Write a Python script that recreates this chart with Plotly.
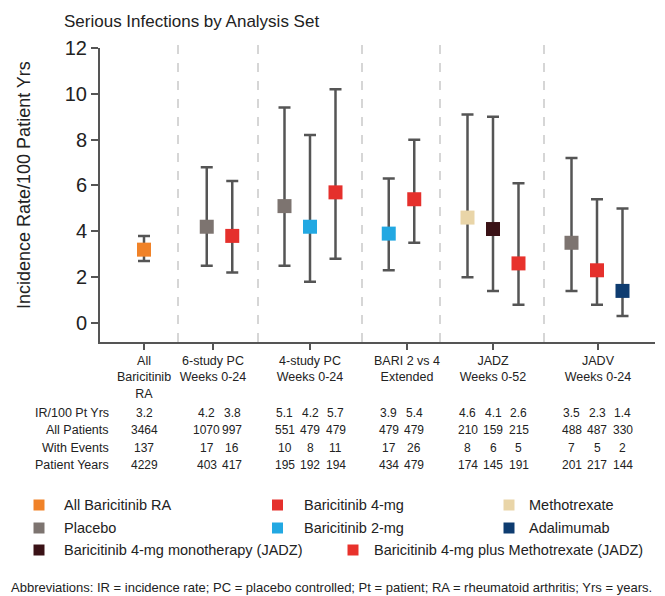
import plotly.graph_objects as go

# ---- data -------------------------------------------------------------
group_labels = [
    "All<br>Baricitinib<br>RA",
    "6-study PC<br>Weeks 0-24",
    "4-study PC<br>Weeks 0-24",
    "BARI 2 vs 4<br>Extended",
    "JADZ<br>Weeks 0-52",
    "JADV<br>Weeks 0-24",
]
point_group = [0, 1, 1, 2, 2, 2, 3, 3, 4, 4, 4, 5, 5, 5]
point_arm = [
    "All Baricitinib RA",
    "Placebo", "Baricitinib 4-mg",
    "Placebo", "Baricitinib 2-mg", "Baricitinib 4-mg",
    "Baricitinib 2-mg", "Baricitinib 4-mg",
    "Methotrexate", "Baricitinib 4-mg monotherapy (JADZ)",
    "Baricitinib 4-mg plus Methotrexate (JADZ)",
    "Placebo", "Baricitinib 4-mg", "Adalimumab",
]
ir_per_100py = [3.2, 4.2, 3.8, 5.1, 4.2, 5.7, 3.9, 5.4, 4.6, 4.1, 2.6, 3.5, 2.3, 1.4]
ci_low = [2.7, 2.5, 2.2, 2.5, 1.8, 2.8, 2.3, 3.5, 2.0, 1.4, 0.8, 1.4, 0.8, 0.3]
ci_high = [3.8, 6.8, 6.2, 9.4, 8.2, 10.2, 6.3, 8.0, 9.1, 9.0, 6.1, 7.2, 5.4, 5.0]
all_patients = [3464, 1070, 997, 551, 479, 479, 479, 479, 210, 159, 215, 488, 487, 330]
with_events = [137, 17, 16, 10, 8, 11, 17, 26, 8, 6, 5, 7, 5, 2]
patient_years = [4229, 403, 417, 195, 192, 194, 434, 479, 174, 145, 191, 201, 217, 144]

table_rows = ["IR/100 Pt Yrs", "All Patients", "With Events", "Patient Years"]

legend_order = [
    ["All Baricitinib RA", "Baricitinib 4-mg", "Methotrexate"],
    ["Placebo", "Baricitinib 2-mg", "Adalimumab"],
    ["Baricitinib 4-mg monotherapy (JADZ)", "Baricitinib 4-mg plus Methotrexate (JADZ)"],
]

arm_colors = {
    "All Baricitinib RA": "#F08228",
    "Placebo": "#7D7470",
    "Baricitinib 4-mg": "#E5302C",
    "Baricitinib 2-mg": "#22A8E2",
    "Methotrexate": "#E9D5A8",
    "Adalimumab": "#0E3C70",
    "Baricitinib 4-mg monotherapy (JADZ)": "#3A1216",
    "Baricitinib 4-mg plus Methotrexate (JADZ)": "#E8322C",
}

# ---- layout geometry (pixels) ----------------------------------------
W, H = 665, 596
PL, PR, PT, PB = 100, 655, 48, 342
group_centre = [44, 119.5, 210, 301.5, 393, 497]
tick_pos = [44, 113, 210, 307, 393, 498]
separators = [78, 158, 262, 340, 444]
STEP = 25.5

TEXT = "#222222"
AXIS = "#555555"
SANS = "Liberation Sans, Arial"


def paper_y(px):
    return (PB - px) / (PB - PT)


def paper_x(px):
    return (px - PL) / (PR - PL)


# x position of each point inside its group
counts = {}
for g in point_group:
    counts[g] = counts.get(g, 0) + 1
seen = {}
xs = []
for g in point_group:
    k = seen.get(g, 0)
    seen[g] = k + 1
    xs.append(group_centre[g] + (k - (counts[g] - 1) / 2) * STEP)

fig = go.Figure()
fig.add_trace(go.Scatter(
    x=xs,
    y=ir_per_100py,
    mode="markers",
    marker=dict(symbol="square", size=14,
                color=[arm_colors[a] for a in point_arm], line=dict(width=0)),
    error_y=dict(
        type="data", symmetric=False,
        array=[h - v for h, v in zip(ci_high, ir_per_100py)],
        arrayminus=[v - l for v, l in zip(ir_per_100py, ci_low)],
        color=AXIS, thickness=2.5, width=6,
    ),
    showlegend=False,
    hoverinfo="skip",
))

shapes = []
for sx in separators:
    shapes.append(dict(type="line", xref="x", yref="paper", x0=sx, x1=sx,
                       y0=0, y1=paper_y(45), layer="below",
                       line=dict(color="#C9C9C9", width=1.5, dash="dash")))

annotations = []
# title
annotations.append(dict(text="Serious Infections by Analysis Set", xref="paper", yref="paper",
                        x=paper_x(62), y=paper_y(22), xanchor="left", yanchor="middle",
                        showarrow=False, font=dict(family=SANS, size=17, color=TEXT)))
# y axis title
annotations.append(dict(text="Incidence Rate/100 Patient Yrs", xref="paper", yref="paper",
                        x=paper_x(24), y=paper_y(185), textangle=-90,
                        xanchor="center", yanchor="middle", showarrow=False,
                        font=dict(family=SANS, size=18, color=TEXT)))

# summary table under the axis
row_y = [413, 430, 448, 465]
row_values = [[f"{v:.1f}" for v in ir_per_100py], all_patients, with_events, patient_years]
for name, ry, vals in zip(table_rows, row_y, row_values):
    annotations.append(dict(text=name, xref="paper", yref="paper",
                            x=paper_x(111), y=paper_y(ry), xanchor="right", yanchor="middle",
                            showarrow=False, font=dict(family=SANS, size=12.5, color=TEXT)))
    for x, v in zip(xs, vals):
        annotations.append(dict(text=str(v), xref="x", yref="paper",
                                x=x, y=paper_y(ry), xanchor="center", yanchor="middle",
                                showarrow=False, font=dict(family=SANS, size=12, color=TEXT)))

# legend drawn as squares + labels
legend_rows_y = [505, 528, 550]
legend_sq = [[39, 277.5, 509], [39, 277.5, 509], [39, 353]]
legend_txt = [[62, 302, 527], [62, 302, 527], [62, 372]]
for names, ly, sqs, txs in zip(legend_order, legend_rows_y, legend_sq, legend_txt):
    for name, cx, tx in zip(names, sqs, txs):
        shapes.append(dict(type="rect", xref="paper", yref="paper",
                           x0=paper_x(cx - 5.5), x1=paper_x(cx + 5.5),
                           y0=paper_y(ly - 5.5), y1=paper_y(ly + 5.5),
                           fillcolor=arm_colors[name], line=dict(width=0)))
        annotations.append(dict(text=name, xref="paper", yref="paper",
                                x=paper_x(tx), y=paper_y(ly), xanchor="left",
                                yanchor="middle", showarrow=False,
                                font=dict(family=SANS, size=14.5, color=TEXT)))

annotations.append(dict(
    text="Abbreviations: IR = incidence rate; PC = placebo controlled; Pt = patient; "
         "RA = rheumatoid arthritis; Yrs = years.",
    xref="paper", yref="paper", x=paper_x(9), y=paper_y(587),
    xanchor="left", yanchor="middle", showarrow=False,
    font=dict(family=SANS, size=13, color=TEXT)))

fig.update_layout(
    width=W, height=H,
    margin=dict(l=PL, r=W - PR, t=PT, b=H - PB, pad=0),
    paper_bgcolor="white", plot_bgcolor="white",
    shapes=shapes, annotations=annotations,
    xaxis=dict(range=[0, PR - PL], showgrid=False, zeroline=False,
               showline=True, linecolor=AXIS, linewidth=2,
               ticks="outside", ticklen=6, tickwidth=2, tickcolor=AXIS,
               tickvals=tick_pos, ticktext=group_labels, tickangle=0,
               tickfont=dict(family=SANS, size=12.5, color=TEXT)),
    yaxis=dict(range=[-0.83, 12], showgrid=False, zeroline=False,
               showline=True, linecolor=AXIS, linewidth=2,
               ticks="outside", ticklen=7, tickwidth=2, tickcolor=AXIS,
               tickvals=[0, 2, 4, 6, 8, 10, 12],
               tickfont=dict(family=SANS, size=20, color=TEXT)),
)

fig.write_html("out.html")
